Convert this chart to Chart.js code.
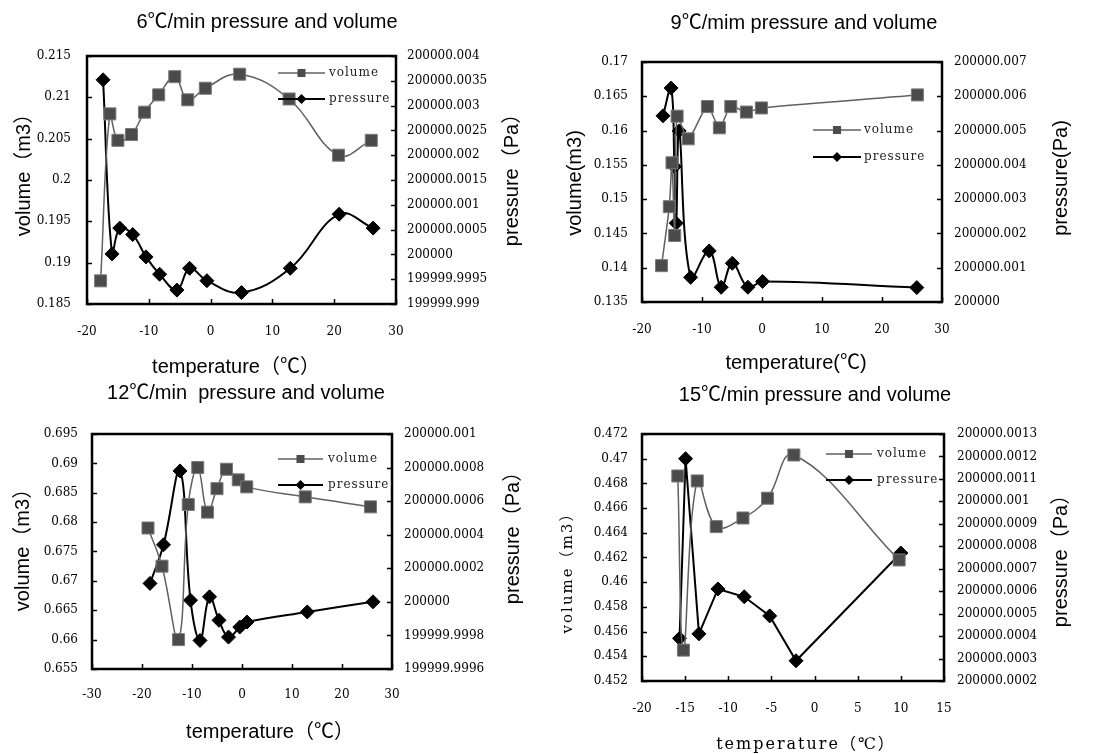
<!DOCTYPE html>
<html>
<head>
<meta charset="utf-8">
<script src="https://cdn.jsdelivr.net/npm/chart.js@4.4.1/dist/chart.umd.min.js"></script>
<style>
  body { margin: 0; background: #fff; width: 1098px; height: 754px; overflow: hidden; position: relative; }
  .box { position: absolute; width: 549px; height: 377px; }
</style>
</head>
<body>
<div class="box" style="left:0;top:0"><canvas id="c6" width="549" height="377"></canvas></div>
<div class="box" style="left:549px;top:0"><canvas id="c9" width="549" height="377"></canvas></div>
<div class="box" style="left:0;top:377px"><canvas id="c12" width="549" height="377"></canvas></div>
<div class="box" style="left:549px;top:377px"><canvas id="c15" width="549" height="377"></canvas></div>
<script>
const SANS = '"Liberation Sans", Arial, "Noto Sans CJK SC", sans-serif';
const SERIF = '"DejaVu Serif", "Liberation Serif", "Noto Sans CJK SC", serif';

// ---- 6 C/min ----
const volT6 = [-17.8, -16.3, -15.0, -12.8, -10.7, -8.4, -5.8, -3.7, -0.85, 4.7, 12.7, 20.7, 26.0];
const vol6 = [0.1878, 0.2080, 0.2048, 0.2055, 0.2082, 0.2103, 0.2125, 0.2097, 0.2111, 0.2128, 0.2098, 0.2030, 0.2048];
const preT6 = [-17.4, -15.95, -14.7, -12.6, -10.45, -8.25, -5.45, -3.4, -0.6, 5.0, 12.9, 20.8, 26.3];
const pre6 = [200000.00352, 200000.00001, 200000.00053, 200000.0004, 199999.99995, 199999.9996,
  199999.99928, 199999.99972, 199999.99947, 199999.99923, 199999.99972, 200000.00081, 200000.00053];
const xTicks6 = [-20, -10, 0, 10, 20, 30];
const volTicks6 = ["0.185", "0.19", "0.195", "0.2", "0.205", "0.21", "0.215"];
const preTicks6 = ["199999.999", "199999.9995", "200000", "200000.0005", "200000.001", "200000.0015",
  "200000.002", "200000.0025", "200000.003", "200000.0035", "200000.004"];

// ---- 9 C/min ----
const volT9 = [-16.75, -15.45, -15.0, -14.55, -14.15, -12.3, -9.1, -7.1, -5.2, -2.6, -0.1, 25.9];
const vol9 = [0.1403, 0.1489, 0.1553, 0.1447, 0.1621, 0.1588, 0.1635, 0.1604, 0.1635, 0.1627, 0.1633, 0.1652];
const preT9 = [-16.5, -15.15, -14.6, -14.3, -13.8, -11.9, -8.8, -6.8, -4.95, -2.35, 0.1, 25.8];
const pre9 = [200000.00543, 200000.00624, 200000.00395, 200000.0023, 200000.00499, 200000.00072,
  200000.00149, 200000.00043, 200000.00113, 200000.00043, 200000.0006, 200000.00042];
const xTicks9 = [-20, -10, 0, 10, 20, 30];
const volTicks9 = ["0.135", "0.14", "0.145", "0.15", "0.155", "0.16", "0.165", "0.17"];
const preTicks9 = ["200000", "200000.001", "200000.002", "200000.003", "200000.004", "200000.005",
  "200000.006", "200000.007"];

// ---- 12 C/min ----
const volT12 = [-18.8, -16.0, -12.7, -10.75, -8.85, -6.9, -5.0, -3.1, -0.75, 0.95, 12.65, 25.7];
const vol12 = [0.6790, 0.6725, 0.6600, 0.6830, 0.6893, 0.6817, 0.6857, 0.6890, 0.6872, 0.6860, 0.6843, 0.6826];
const preT12 = [-18.4, -15.7, -12.4, -10.3, -8.4, -6.5, -4.6, -2.7, -0.45, 1.0, 13.05, 26.2];
const pre12 = [200000.00011, 200000.00034, 200000.00078, 200000.00001, 199999.99977, 200000.00003,
  199999.99989, 199999.99979, 199999.99985, 199999.99988, 199999.99994, 200000.0];
const xTicks12 = [-30, -20, -10, 0, 10, 20, 30];
const volTicks12 = ["0.655", "0.66", "0.665", "0.67", "0.675", "0.68", "0.685", "0.69", "0.695"];
const preTicks12 = ["199999.9996", "199999.9998", "200000", "200000.0002", "200000.0004", "200000.0006",
  "200000.0008", "200000.001"];

// ---- 15 C/min ----
const volT15 = [-15.85, -15.2, -13.6, -11.4, -8.3, -5.45, -2.4, 9.8];
const vol15 = [0.4686, 0.4545, 0.4682, 0.4645, 0.4652, 0.4668, 0.4703, 0.4618];
const preT15 = [-15.65, -14.95, -13.4, -11.2, -8.15, -5.2, -2.15, 10.0];
const pre15 = [200000.00039, 200000.00119, 200000.00041, 200000.00061, 200000.000575, 200000.00049,
  200000.00029, 200000.00077];
const xTicks15 = [-20, -15, -10, -5, 0, 5, 10, 15];
const volTicks15 = ["0.452", "0.454", "0.456", "0.458", "0.46", "0.462", "0.464", "0.466", "0.468", "0.47", "0.472"];
const preTicks15 = ["200000.0002", "200000.0003", "200000.0004", "200000.0005", "200000.0006", "200000.0007",
  "200000.0008", "200000.0009", "200000.001", "200000.0011", "200000.0012", "200000.0013"];

// frame, inner tick marks, titles and legend
const decor = {
  id: "decor",
  afterDatasetsDraw(chart, args, o) {
    const ctx = chart.ctx, a = chart.chartArea;
    ctx.save();
    ctx.strokeStyle = "#000";
    ctx.lineWidth = 1.5;
    ctx.beginPath();
    chart.scales.x.ticks.forEach(t => {
      const p = Math.round(chart.scales.x.getPixelForValue(t.value)) + 0.5;
      ctx.moveTo(p, a.bottom); ctx.lineTo(p, a.bottom - 5);
    });
    chart.scales.y.ticks.forEach(t => {
      const p = Math.round(chart.scales.y.getPixelForValue(t.value)) + 0.5;
      ctx.moveTo(a.left, p); ctx.lineTo(a.left + 5, p);
    });
    chart.scales.y1.ticks.forEach(t => {
      const p = Math.round(chart.scales.y1.getPixelForValue(t.value)) + 0.5;
      ctx.moveTo(a.right, p); ctx.lineTo(a.right - 5, p);
    });
    ctx.stroke();
    ctx.lineWidth = 2.5;
    ctx.strokeRect(a.left, a.top, a.right - a.left, a.bottom - a.top);
    ctx.restore();
  },
  afterDraw(chart, args, o) {
    const ctx = chart.ctx;
    ctx.save();
    ctx.fillStyle = "#000";
    ctx.textAlign = "center";
    ctx.textBaseline = "middle";
    const txt = (t, rot) => {
      ctx.save();
      ctx.font = t.font;
      ctx.letterSpacing = t.spacing || "0px";
      ctx.translate(t.x, t.y);
      if (rot) ctx.rotate(-Math.PI / 2);
      ctx.fillText(t.text, 0, 0);
      ctx.restore();
    };
    txt(o.title, false);
    txt(o.xTitle, false);
    txt(o.yTitle, true);
    txt(o.y1Title, true);

    // legend
    const lg = o.legend;
    const ds = chart.data.datasets;
    [[ds[0], lg.yVol], [ds[1], lg.yPre]].forEach(([d, y]) => {
      ctx.strokeStyle = d.borderColor;
      ctx.lineWidth = d.borderWidth;
      ctx.beginPath(); ctx.moveTo(lg.x1, y); ctx.lineTo(lg.x2, y); ctx.stroke();
      const cx = (lg.x1 + lg.x2) / 2;
      ctx.fillStyle = d.pointBackgroundColor;
      ctx.beginPath();
      if (d.pointStyle === "rect") {
        ctx.rect(cx - 4, y - 4, 8, 8);
      } else {
        ctx.moveTo(cx, y - 5); ctx.lineTo(cx + 5, y); ctx.lineTo(cx, y + 5); ctx.lineTo(cx - 5, y);
        ctx.closePath();
      }
      ctx.fill();
      ctx.fillStyle = "#222";
      ctx.font = "12px " + SERIF;
      ctx.letterSpacing = "1px";
      ctx.textAlign = "left";
      ctx.fillText(d.label, lg.textX, y);
    });
    ctx.restore();
  }
};

function build(id, s, lay) {
  const tickFont = { family: SERIF, size: 12 };
  const pts = (xs, ys) => xs.map((t, i) => ({ x: t, y: ys[i] }));
  return new Chart(document.getElementById(id), {
    type: "line",
    data: {
      datasets: [
        {
          label: "volume", data: pts(s.volT, s.vol), yAxisID: "y",
          borderColor: "#606060", borderWidth: 1.5, tension: s.volTension,
          pointStyle: "rect", pointRadius: 8.5, pointBackgroundColor: "#4b4b4b",
          pointBorderColor: "#7a7a7a", pointBorderWidth: 1
        },
        {
          label: "pressure", data: pts(s.preT, s.pre), yAxisID: "y1",
          borderColor: "#000", borderWidth: 2, tension: s.preTension,
          pointStyle: "rectRot", pointRadius: 7, pointBackgroundColor: "#000",
          pointBorderColor: "#000", pointBorderWidth: 1
        }
      ]
    },
    options: {
      responsive: false, animation: false, devicePixelRatio: 1, events: [],
      layout: { padding: { top: lay.T, left: 0, right: 0, bottom: 0 } },
      plugins: {
        legend: { display: false }, title: { display: false }, tooltip: { enabled: false },
        decor: lay.decor
      },
      scales: {
        x: {
          type: "linear", position: "bottom",
          min: s.xTicks[0], max: s.xTicks[s.xTicks.length - 1],
          afterBuildTicks: sc => { sc.ticks = s.xTicks.map(v => ({ value: v })); },
          afterFit: sc => { sc.height = 377 - lay.B; },
          grid: { display: false, drawTicks: false }, border: { display: false },
          ticks: { font: tickFont, color: "#000", padding: lay.xPad, maxRotation: 0, autoSkip: false,
            callback: (v, i) => String(s.xTicks[i]) }
        },
        y: {
          position: "left",
          min: Number(s.volTicks[0]), max: Number(s.volTicks[s.volTicks.length - 1]),
          afterBuildTicks: sc => { sc.ticks = s.volTicks.map(v => ({ value: Number(v) })); },
          afterFit: sc => { sc.width = lay.L; },
          grid: { display: false, drawTicks: false }, border: { display: false },
          ticks: { font: tickFont, color: "#000", padding: lay.yPad, autoSkip: false,
            callback: (v, i) => s.volTicks[i] }
        },
        y1: {
          position: "right",
          min: Number(s.preTicks[0]), max: Number(s.preTicks[s.preTicks.length - 1]),
          afterBuildTicks: sc => { sc.ticks = s.preTicks.map(v => ({ value: Number(v) })); },
          afterFit: sc => { sc.width = 549 - lay.R; },
          grid: { display: false, drawTicks: false }, border: { display: false },
          ticks: { font: tickFont, color: "#000", padding: lay.y1Pad, autoSkip: false,
            callback: (v, i) => s.preTicks[i] }
        }
      }
    },
    plugins: [decor]
  });
}

const big = "20px " + SANS;

build("c6",
  { volT: volT6, vol: vol6, preT: preT6, pre: pre6, xTicks: xTicks6, volTicks: volTicks6, preTicks: preTicks6,
    volTension: 0.4, preTension: 0.4 },
  { L: 87, R: 396, T: 56, B: 304, xPad: 21, yPad: 16, y1Pad: 11,
    decor: {
      title: { text: "6℃/min pressure and volume", x: 267, y: 22, font: big },
      xTitle: { text: "temperature（℃）", x: 236, y: 367, font: big },
      yTitle: { text: "volume（m3）", x: 24, y: 170, font: big },
      y1Title: { text: "pressure（Pa）", x: 512, y: 175, font: big },
      legend: { x1: 278, x2: 325, textX: 329, yVol: 73, yPre: 99 }
    } });

build("c9",
  { volT: volT9, vol: vol9, preT: preT9, pre: pre9, xTicks: xTicks9, volTicks: volTicks9, preTicks: preTicks9,
    volTension: 0.25, preTension: 0.4 },
  { L: 93, R: 393, T: 62, B: 302, xPad: 21, yPad: 14, y1Pad: 12,
    decor: {
      title: { text: "9℃/mim pressure and volume", x: 255, y: 23, font: big },
      xTitle: { text: "temperature(℃)", x: 247, y: 363, font: big },
      yTitle: { text: "volume(m3)", x: 26, y: 183, font: big },
      y1Title: { text: "pressure(Pa)", x: 512, y: 178, font: big },
      legend: { x1: 264, x2: 312, textX: 315, yVol: 130, yPre: 157 }
    } });

build("c12",
  { volT: volT12, vol: vol12, preT: preT12, pre: pre12, xTicks: xTicks12, volTicks: volTicks12, preTicks: preTicks12,
    volTension: 0.4, preTension: 0.4 },
  { L: 92, R: 392, T: 57, B: 292, xPad: 19, yPad: 14, y1Pad: 12,
    decor: {
      title: { text: "12℃/min  pressure and volume", x: 246, y: 16, font: big },
      xTitle: { text: "temperature（℃）", x: 270, y: 355, font: big },
      yTitle: { text: "volume（m3）", x: 23, y: 168, font: big },
      y1Title: { text: "pressure（Pa）", x: 513, y: 156, font: big },
      legend: { x1: 278, x2: 323, textX: 328, yVol: 82, yPre: 108 }
    } });

build("c15",
  { volT: volT15, vol: vol15, preT: preT15, pre: pre15, xTicks: xTicks15, volTicks: volTicks15, preTicks: preTicks15,
    volTension: 0.4, preTension: 0 },
  { L: 93, R: 395, T: 57, B: 304, xPad: 21, yPad: 14, y1Pad: 13,
    decor: {
      title: { text: "15℃/min pressure and volume", x: 266, y: 18, font: big },
      xTitle: { text: "temperature（℃）", x: 257, y: 368, font: "16px " + SERIF, spacing: "2px" },
      yTitle: { text: "volume（m3）", x: 19, y: 192, font: "15px " + SERIF, spacing: "2px" },
      y1Title: { text: "pressure（Pa）", x: 512, y: 179, font: big },
      legend: { x1: 277, x2: 323, textX: 328, yVol: 77, yPre: 103 }
    } });
</script>
</body>
</html>
